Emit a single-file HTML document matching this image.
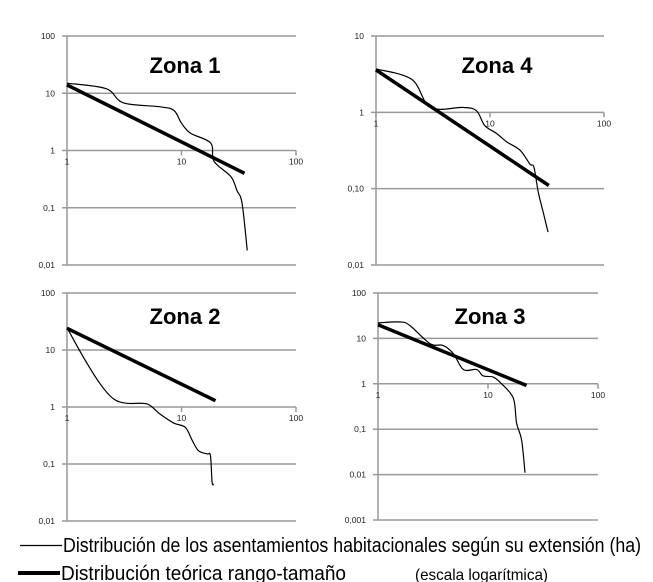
<!DOCTYPE html>
<html><head><meta charset="utf-8"><style>
body{margin:0;background:#fff}
svg{display:block}
.tk{font-family:"Liberation Sans",sans-serif;font-size:8.5px;fill:#222}
.ttl{font-family:"Liberation Sans",sans-serif;font-size:22px;font-weight:bold;fill:#000}
.lg{font-family:"Liberation Sans Narrow","Liberation Sans",sans-serif;fill:#000}
</style></head><body>
<svg id="c" width="653" height="582" viewBox="0 0 653 582">
<g>
<line x1="20" y1="545.5" x2="62" y2="545.5" stroke="#000" stroke-width="1.3"/>
<text class="lg" x="63" y="552" font-size="20" textLength="578" lengthAdjust="spacingAndGlyphs">Distribución de los asentamientos habitacionales según su extensión (ha)</text>
<line x1="18" y1="573" x2="60" y2="573" stroke="#000" stroke-width="4"/>
<text class="lg" x="61" y="580" font-size="20" textLength="285" lengthAdjust="spacingAndGlyphs">Distribución teórica rango-tamaño</text>
<text class="lg" x="415" y="580" font-size="16" textLength="133" lengthAdjust="spacingAndGlyphs">(escala logarítmica)</text>
</g>
</svg>
<script>
const panelNames=["Zona 1","Zona 4","Zona 2","Zona 3"];
const z1Rank=[1,2.2,3.1,6.5,8.6,10,12,18,19.2,27,30.5,33.8,37.5];
const z1Val=[15,12,6.8,5.8,5,3,2,1.35,0.65,0.35,0.2,0.12,0.018];
const z1TheoryRank=[1,35.5];
const z1TheoryVal=[14,0.4];
const z4Rank=[1,2.06,3,5.8,7.6,9,11.4,14,18.3,22.4,24.3,26.5,29.2,32.3];
const z4Val=[3.7,2.7,1.16,1.16,1.05,0.67,0.53,0.41,0.32,0.21,0.19,0.09,0.05,0.027];
const z4TheoryRank=[1,32.8];
const z4TheoryVal=[3.6,0.11];
const z2Rank=[1,1.4,1.96,2.56,3.35,5,6.5,8.6,10.8,12.4,14.1,16.8,17.9,18.5,19.2];
const z2Val=[24.6,7.3,2.5,1.38,1.16,1.13,0.75,0.52,0.44,0.26,0.17,0.15,0.14,0.048,0.044];
const z2TheoryRank=[1,19.8];
const z2TheoryVal=[24,1.29];
const z3Rank=[1,1.6,1.96,2.98,3.9,4.85,5.97,7.9,9,11.2,13.3,17,18.2,20.2,21.7];
const z3Val=[22,23,19,7.6,7,4.6,2.06,2.06,1.5,1.4,1,0.48,0.135,0.058,0.011];
const z3TheoryRank=[1,22.4];
const z3TheoryVal=[20,0.92];
const z1Ticks=["100","10","1","0,1","0,01"];
const z4Ticks=["10","1","0,10","0,01"];
const z2Ticks=["100","10","1","0,1","0,01"];
const z3Ticks=["100","10","1","0,1","0,01","0,001"];
const xTicks=["1","10","100"];

const NS="http://www.w3.org/2000/svg";
const svg=document.getElementById('c');
function mk(t,a){const e=document.createElementNS(NS,t);for(const k in a)e.setAttribute(k,a[k]);return e;}
const panels=[
 {name:panelNames[0],L:67,R:296,T:36,B:265,top:2,dec:4,ticks:z1Ticks,xr:z1Rank,yv:z1Val,tr:z1TheoryRank,tv:z1TheoryVal,tx:185,ty:73,slug:'zona-1'},
 {name:panelNames[1],L:376,R:604,T:36,B:265,top:1,dec:3,ticks:z4Ticks,xr:z4Rank,yv:z4Val,tr:z4TheoryRank,tv:z4TheoryVal,tx:497,ty:73,slug:'zona-4'},
 {name:panelNames[2],L:67,R:296,T:293,B:521,top:2,dec:4,ticks:z2Ticks,xr:z2Rank,yv:z2Val,tr:z2TheoryRank,tv:z2TheoryVal,tx:185,ty:324,slug:'zona-2'},
 {name:panelNames[3],L:378,R:598,T:293,B:520,top:2,dec:5,ticks:z3Ticks,xr:z3Rank,yv:z3Val,tr:z3TheoryRank,tv:z3TheoryVal,tx:490,ty:324,slug:'zona-3'}
];
function smooth(pts){
 let d='M'+pts[0][0]+','+pts[0][1];
 for(let i=0;i<pts.length-1;i++){
  const p0=pts[Math.max(0,i-1)],p1=pts[i],p2=pts[i+1],p3=pts[Math.min(pts.length-1,i+2)];
  const c1=[p1[0]+(p2[0]-p0[0])/6,p1[1]+(p2[1]-p0[1])/6];
  const c2=[p2[0]-(p3[0]-p1[0])/6,p2[1]-(p3[1]-p1[1])/6];
  d+=' C'+c1.join(',')+' '+c2.join(',')+' '+p2.join(',');
 }
 return d;
}
panels.forEach(p=>{
 const g=mk('g',{});
 
 
 svg.appendChild(g);
 const xs=v=>p.L+Math.log10(v)/2*(p.R-p.L);
 const ys=v=>p.T+(p.top-Math.log10(v))/p.dec*(p.B-p.T);
 p.ticks.forEach((t,i)=>{
  const y=p.T+i/p.dec*(p.B-p.T);
  const ln=mk('line',{x1:p.L-5,x2:p.R,y1:y,y2:y,stroke:'#999','stroke-width':1.5});
  
  
  g.appendChild(ln);
  const tx=mk('text',{x:p.L-12,y:y+3,'text-anchor':'end',class:'tk'});
  
  
  tx.textContent=t;g.appendChild(tx);
 });
 const ax=mk('line',{x1:p.L,x2:p.L,y1:p.T,y2:p.B,stroke:'#999','stroke-width':1.5});
 
 
 g.appendChild(ax);
 const y1=ys(1);
 xTicks.forEach(t=>{
  const x=xs(+t);
  const tk=mk('line',{x1:x,x2:x,y1:y1,y2:y1+5,stroke:'#999','stroke-width':1.5});
  
  
  g.appendChild(tk);
  const tx=mk('text',{x:x,y:y1+14,'text-anchor':'middle',class:'tk'});
  
  
  tx.textContent=t;g.appendChild(tx);
 });
 const th=mk('polyline',{points:p.tr.map((r,i)=>xs(r)+','+ys(p.tv[i])).join(' '),fill:'none',stroke:'#000','stroke-width':3.5});
 
 
 g.appendChild(th);
 const ob=mk('path',{d:smooth(p.xr.map((r,i)=>[xs(r),ys(p.yv[i])])),fill:'none',stroke:'#000','stroke-width':1.2,'stroke-linejoin':'round'});
 
 
 g.appendChild(ob);
 const tt=mk('text',{x:p.tx,y:p.ty,'text-anchor':'middle',class:'ttl'});
 
 
 tt.textContent=p.name;g.appendChild(tt);
});
</script>
</body></html>
